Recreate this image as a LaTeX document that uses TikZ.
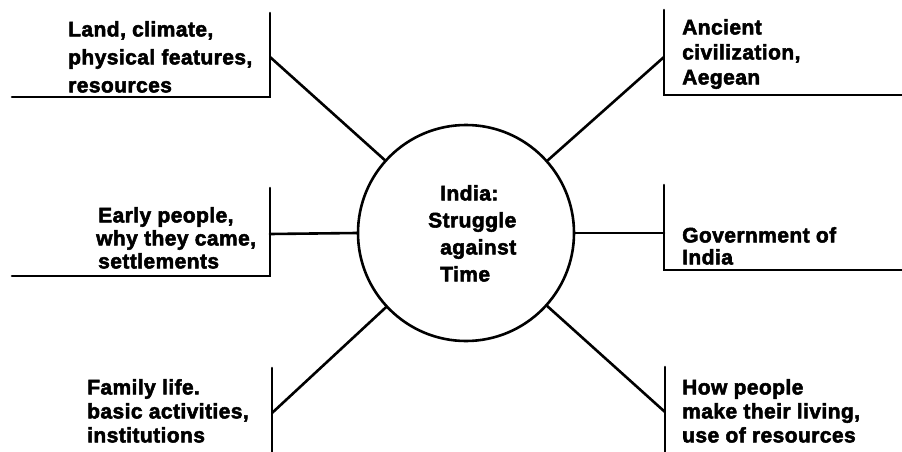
\documentclass[tikz,border=0pt]{standalone}
\usepackage{fontspec}
\setmainfont{Liberation Sans}
\newfontfamily\heavy{Liberation Sans Bold}[FakeBold=2.5,LetterSpace=2]
\begin{document}
\begin{tikzpicture}[x=1pt,y=-1pt,
  ln/.style={line width=2.6pt, line cap=round},
  txt/.style={align=left, anchor=north west, inner sep=0pt,
    font=\heavy\fontsize{21}{#1}\selectfont}]
\useasboundingbox (0,0) rectangle (902,452);
% centre
\node[draw, circle, line width=2.6pt, minimum size=216pt, inner sep=0pt] (c) at (466,233) {};
\node[txt=27] (ct) at (428,185) {\hspace*{12pt}India:\\Struggle\\\hspace*{12pt}against\\\hspace*{12pt}Time};
% bracket corners and junctions
\coordinate (tlt) at (270,13);  \coordinate (tlb) at (270,97);  \coordinate (tll) at (12,97);  \coordinate (tlj) at (270,57);
\coordinate (trt) at (664,10);  \coordinate (trb) at (664,95);  \coordinate (trr) at (902,95); \coordinate (trj) at (664,57);
\coordinate (mlt) at (270,188); \coordinate (mlb) at (270,276); \coordinate (mll) at (12,276); \coordinate (mlj) at (270,234);
\coordinate (mrt) at (664,185); \coordinate (mrb) at (664,270); \coordinate (mrr) at (902,270); \coordinate (mrj) at (664,233);
\coordinate (blt) at (272,368); \coordinate (blb) at (272,452); \coordinate (blj) at (272,413);
\coordinate (brt) at (665,367); \coordinate (brb) at (665,452); \coordinate (brj) at (665,412);
% brackets
\draw[ln] (tlt) -- (tlb) -- (tll);
\draw[ln] (trt) -- (trb) -- (trr);
\draw[ln] (mlt) -- (mlb) -- (mll);
\draw[ln] (mrt) -- (mrb) -- (mrr);
\draw[ln] (blt) -- (blb);
\draw[ln] (brt) -- (brb);
% connectors
\draw[ln] (c) -- (tlj);
\draw[ln] (c) -- (trj);
\draw[ln] (c.west) -- (mlj);
\draw[ln] (c.east) -- (mrj);
\draw[ln] (c) -- (blj);
\draw[ln] (c) -- (brj);
% texts
\node[txt=28] (t1) at (68,21) {Land, climate,\\physical features,\\resources};
\node[txt=25] (t2) at (682,19) {Ancient\\civilization,\\Aegean};
\node[txt=23] (t3) at (96,207) {\hspace*{2pt}Early people,\\why they came,\\\hspace*{2pt}settlements};
\node[txt=22] (t4) at (682,227) {Government of\\India};
\node[txt=24] (t5) at (87,379) {Family life.\\basic activities,\\institutions};
\node[txt=24] (t6) at (682,379) {How people\\make their living,\\use of resources};
\end{tikzpicture}
\end{document}
